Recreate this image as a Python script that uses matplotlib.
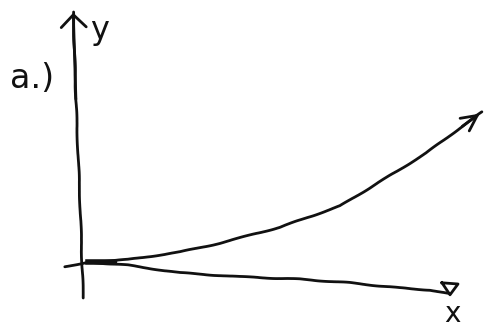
import matplotlib.pyplot as plt
import numpy as np

# sketch units: origin at the crossing of the axes, y up
upper_x = [0, 1.0, 2.3, 3.3, 4.8, 6.3, 7.45, 8.45, 9.3, 9.85]
upper_y = [0, 0.06, 0.25, 0.47, 0.87, 1.4, 2.1, 2.72, 3.35, 3.75]

lower_x = [0, 1.0, 2.3, 3.8, 5.3, 6.55, 7.8, 8.55, 9.05]
lower_y = [0, -0.08, -0.27, -0.37, -0.43, -0.52, -0.65, -0.7, -0.8]

yaxis_x = [-0.12, -0.2, -0.3, -0.37]
yaxis_y = [-0.9, 1.5, 4.0, 6.25]

xaxis_x = [-0.58, 0, 0.7]
xaxis_y = [-0.12, 0, 0]

fig = plt.figure(figsize=(4.87, 3.30), dpi=100)
ax = fig.add_axes([0, 0, 1, 1])
ax.set_xlim(-2.2, 9.975)
ax.set_ylim(-1.7, 6.55)
ax.axis('off')

ink = '#111111'
lw = 2.0

for xs, ys in [(upper_x, upper_y), (lower_x, lower_y),
               (yaxis_x, yaxis_y), (xaxis_x, xaxis_y)]:
    ln, = ax.plot(xs, ys, color=ink, lw=lw, solid_capstyle='round')
    ln.set_sketch_params(scale=0.4, length=60, randomness=2)

# thicker blob at the origin
ax.plot([0, 0.65], [0.0, 0.0], color=ink, lw=4)

# arrow heads
ax.annotate('', xy=(upper_x[-1], upper_y[-1]), xytext=(upper_x[-2], upper_y[-2]),
            arrowprops=dict(arrowstyle='->, head_width=0.35, head_length=0.7',
                            color=ink, lw=lw, mutation_scale=16))
ax.annotate('', xy=(yaxis_x[-1], yaxis_y[-1] + 0.05), xytext=(yaxis_x[-2], yaxis_y[-2]),
            arrowprops=dict(arrowstyle='->, head_width=0.5, head_length=0.5',
                            color=ink, lw=lw, mutation_scale=18))
ax.plot([8.85, 9.25, 9.05, 8.85], [-0.52, -0.55, -0.82, -0.52], color=ink, lw=lw)

txt = dict(color=ink, family='DejaVu Sans', fontweight='normal')
ax.text(-1.95, 4.6, 'a.)', fontsize=24, ha='left', va='center', **txt)
ax.text(0.05, 5.8, 'y', fontsize=23, ha='left', va='center', **txt)
ax.text(9.1, -1.3, 'x', fontsize=20, ha='center', va='center', **txt)

fig.savefig('out.png', dpi=100)
